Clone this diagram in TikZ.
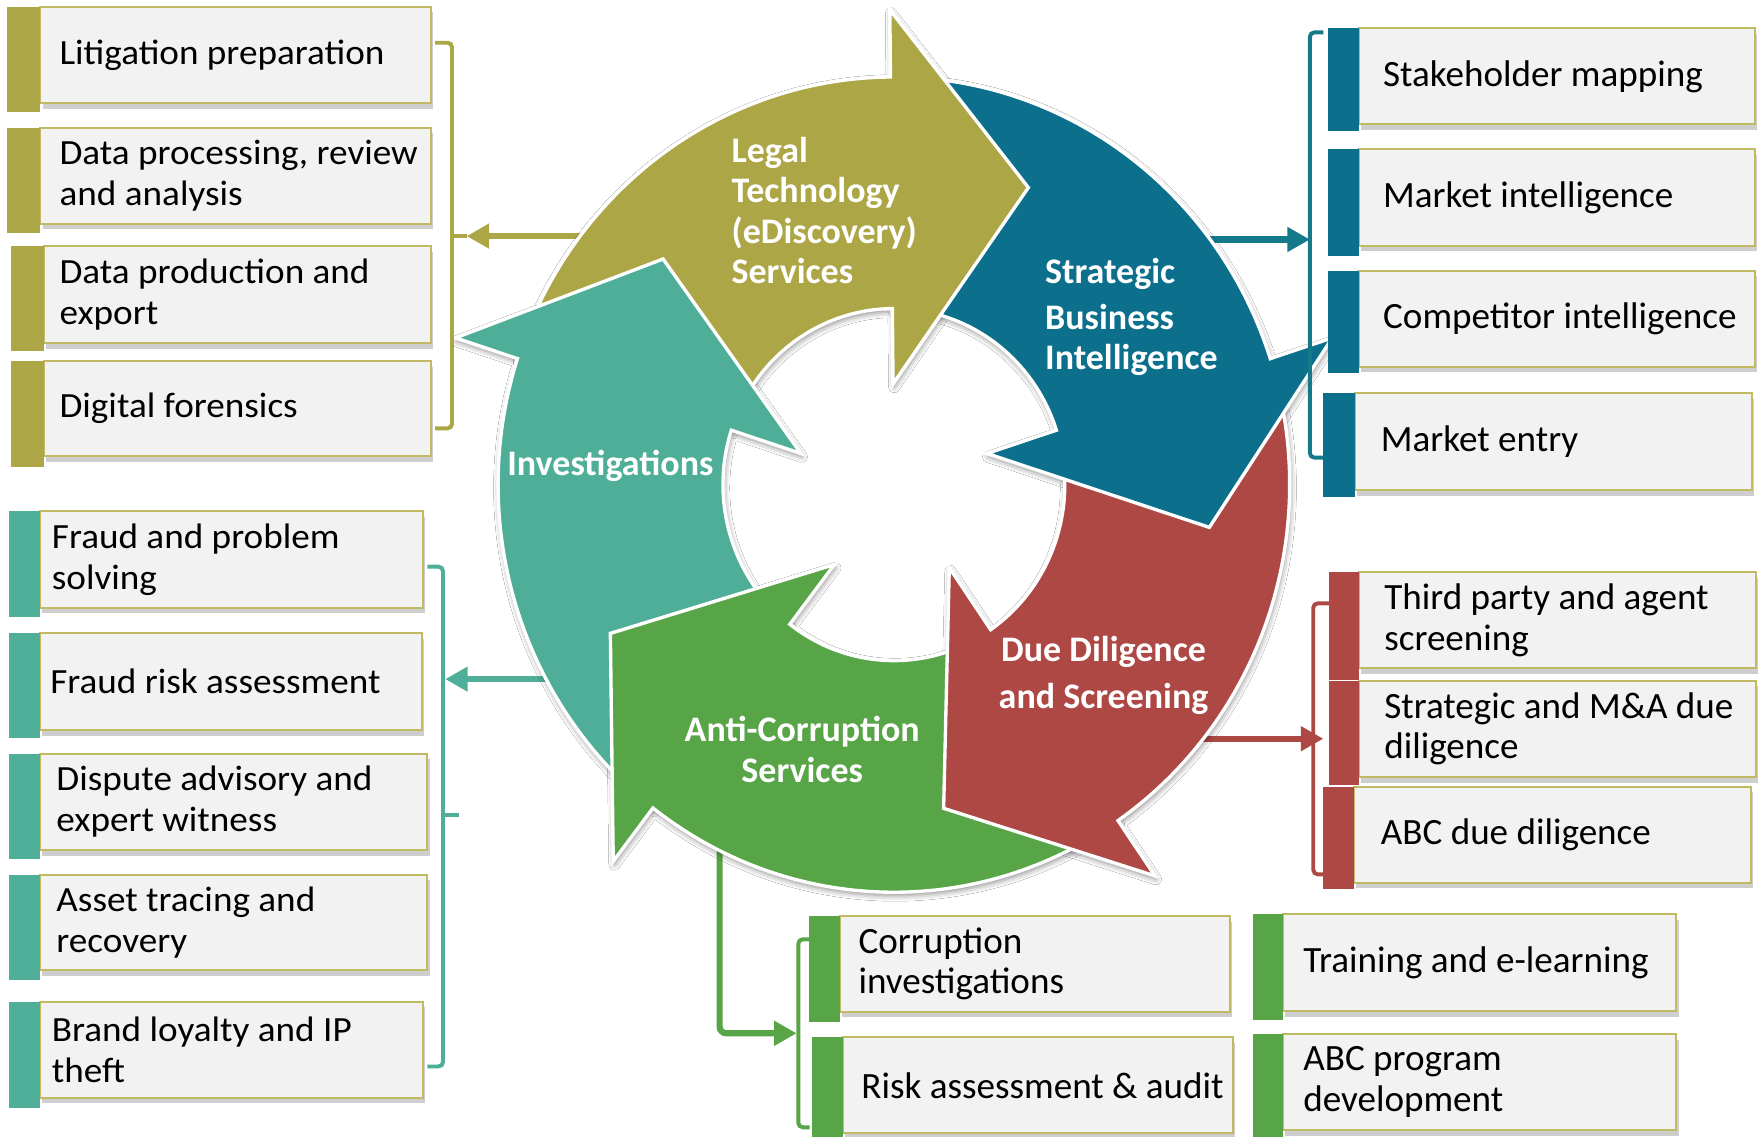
\documentclass[tikz,border=0pt]{standalone}
\usepackage{fontspec}
\setmainfont{Carlito}
\newfontfamily\widefont[FakeStretch=1.05]{Carlito}
\usetikzlibrary{arrows.meta,shadows.blur}

\definecolor{cLegal}{RGB}{173,166,71}
\definecolor{cSBI}{RGB}{12,111,140}
\definecolor{cSBIline}{RGB}{20,122,138}
\definecolor{cDD}{RGB}{173,72,69}
\definecolor{cAC}{RGB}{88,165,71}
\definecolor{cInv}{RGB}{79,174,151}
\definecolor{boxfill}{RGB}{242,242,242}
\definecolor{boxline}{RGB}{194,186,98}
\definecolor{boxshade}{RGB}{206,206,206}

% ring geometry (cycle scope units)
\def\Rout{352}
\def\rin{152}
\def\Rhead{410}
\def\rhead{87}
\def\Rtip{283}
\def\tipoff{25.5}

% one curved arrow of the ring: options, head angle, tail angle
\newcommand\arcarrow[3]{%
  \path[#1] (#3:\Rout) arc[start angle=#3, end angle=#2, radius=\Rout]
    -- (#2:\Rhead) -- ({#2-\tipoff}:\Rtip) -- (#2:\rhead) -- (#2:\rin)
    arc[start angle=#2, end angle=#3, radius=\rin] -- cycle;}

% service box: name, colour, box left, box right, top, bottom, bar bottom, text x, text
\newcommand\svc[9]{%
  \fill[boxshade] ({#3+2},{#5+5}) rectangle ({#4+2},{#6+5});
  \draw[svcbox] (#3,#5) rectangle (#4,#6);
  \fill[#2] ({#3-\barw},#5) rectangle (#3,#7);
  \node[grouptext] (#1) at (#8,{(#5+#6)/2}) {#9};}

\begin{document}
\begin{tikzpicture}[x=1pt,y=-1pt,
  svcbox/.style={fill=boxfill,draw=boxline,line width=1.8pt},
  svctext/.style={anchor=west,inner sep=0pt,align=left,text=black,font=\fontsize{33}{36}\selectfont},
  svctextwide/.style={svctext,font=\widefont\fontsize{31.5}{36}\selectfont},
  grouptext/.style={svctext},
  ringarrow/.style={draw=white,line width=3pt},
  ringshade/.style={blur shadow={shadow xshift=1pt,shadow yshift=-3pt,shadow blur radius=5pt,shadow opacity=45}},
  ringlabel/.style={inner sep=0pt,text=white,font=\bfseries\fontsize{32}{36}\selectfont},
  bracket/.style={line width=3.5pt,rounded corners=4pt},
  feed/.style={line width=5.5pt,-{Triangle[length=20pt,width=21pt]}},
]
\useasboundingbox (0,0) rectangle (1568,1011);
\fill[white] (0,0) rectangle (1568,1011);

% ---- feeds from the ring to the service lists
\coordinate (legal-src) at (540,210);
\coordinate (legal-hub) at (415,210);
\coordinate (inv-src) at (500,604);
\coordinate (inv-hub) at (396,604);
\coordinate (sbi-src) at (1060,213);
\coordinate (sbi-hub) at (1165,213);
\coordinate (dd-src) at (1050,657);
\coordinate (dd-hub) at (1177,657);
\coordinate (ac-src) at (640,740);
\coordinate (ac-hub) at (708.5,919);
\draw[feed,cLegal] (legal-src) -- (legal-hub);
\draw[feed,cInv] (inv-src) -- (inv-hub);
\draw[feed,cSBIline] (sbi-src) -- (sbi-hub);
\draw[feed,cDD] (dd-src) -- (dd-hub);
\draw[feed,cAC,rounded corners=6pt] (ac-src) |- (ac-hub);

% ---- the ring of five arrows
\begin{scope}[shift={(795,431)},x=1pt,y=1.03pt]
  \foreach \h/\t in {90.5/162, 18/90.5, -55.5/18, -127.5/-55.5, 162/232.5}
    {\arcarrow{ringshade}{\h}{\t}}
  \arcarrow{ringarrow,fill=cLegal}{90.5}{162}
  \arcarrow{ringarrow,fill=cInv}{162}{232.5}
  \arcarrow{ringarrow,fill=cAC}{-127.5}{-55.5}
  \arcarrow{ringarrow,fill=cDD}{-55.5}{18}
  \arcarrow{ringarrow,fill=cSBI}{18}{90.5}
  % head of the first arrow lies over the tail of the last one
  \begin{scope}
    \clip (-8,-500) rectangle (500,500);
    \arcarrow{ringarrow,fill=cLegal}{90.5}{162}
  \end{scope}
\end{scope}

% labels: base anchor sits on the last line
\node[ringlabel,anchor=base west,align=left] (lbl-legal) at (650.5,252.5)
  {Legal\\Technology\\(eDiscovery)\\Services};
\node[ringlabel,anchor=base west,align=left] (lbl-sbi) at (929.4,329)
  {Strategic\\[5pt]Business\\Intelligence};
\node[ringlabel,anchor=base west] (lbl-inv) at (451,422.5) {Investigations};
\node[ringlabel,anchor=base,align=center] (lbl-dd) at (981.5,630)
  {Due Diligence\\[5.5pt]and Screening};
\node[ringlabel,anchor=base,align=center] (lbl-ac) at (713.5,695.6)
  {Anti-Corruption\\Services};

% ---- brackets gathering each list
\draw[bracket,cLegal] (387,38) -- (402,38) -- (402,381) -- (387,381);
\draw[bracket,cLegal] (402,210) -- (legal-hub);
\draw[bracket,cInv] (380,504) -- (394,504) -- (394,948.5) -- (380,948.5);
\draw[bracket,cInv] (394,725) -- (408.5,725);
\draw[bracket,cSBIline] (1177,28.8) -- (1165,28.8) -- (1165,407) -- (1177,407);
\draw[bracket,cDD] (1182,536.6) -- (1168,536.6) -- (1168,777.6) -- (1182,777.6);
\draw[bracket,cAC] (720,835.4) -- (710,835.4) -- (710,1002.6) -- (720,1002.6);

% ---- Legal Technology services
\def\barw{29.5}
\tikzset{grouptext/.style={svctextwide}}
\svc{lt1}{cLegal}{36}{383}{6}{92}{100}{52.8}{Litigation preparation}
\svc{lt2}{cLegal}{36}{383}{113.5}{199}{207.5}{52.8}{Data processing, review\\and analysis}
\svc{lt3}{cLegal}{39}{383}{219}{305}{312}{52.8}{Data production and\\export}
\svc{lt4}{cLegal}{39}{383}{321}{405.6}{415}{52.8}{Digital forensics}

% ---- Investigations services
\def\barw{28}
\svc{tl1}{cInv}{35.6}{376}{454.8}{540.6}{549}{46}{Fraud and problem\\solving}
\svc{tl2}{cInv}{35.6}{375}{562.9}{649.3}{656.8}{44.5}{Fraud risk assessment}
\svc{tl3}{cInv}{35.6}{380}{670.2}{755.9}{764}{50}{Dispute advisory and\\expert witness}
\svc{tl4}{cInv}{35.6}{380}{777.8}{862.8}{872}{50}{Asset tracing and\\recovery}
\svc{tl5}{cInv}{35.6}{376}{890.8}{976.4}{985.8}{46}{Brand loyalty and IP\\theft}

% ---- Strategic Business Intelligence services
\tikzset{grouptext/.style={svctext}}
\svc{sb1}{cSBI}{1208.7}{1561}{25.2}{110.6}{116.2}{1230}{Stakeholder mapping}
\svc{sb2}{cSBI}{1208.7}{1561}{132.8}{218.5}{227.7}{1230}{Market intelligence}
\svc{sb3}{cSBI}{1208.7}{1561}{240.7}{326.1}{332}{1230}{Competitor intelligence}
\svc{sb4}{cSBI}{1205}{1558}{349.8}{435.8}{441.7}{1228}{Market entry}

% ---- Due Diligence services
\def\barw{27}
\svc{dd1}{cDD}{1208.7}{1561.7}{509}{594.4}{605}{1231}{Third party and agent\\screening}
\svc{dd2}{cDD}{1208.7}{1561.7}{605.4}{691.3}{698}{1231}{Strategic and M\&A due\\diligence}
\svc{dd3}{cDD}{1204}{1557.3}{699.6}{785}{791}{1228}{ABC due diligence}

% ---- Anti-Corruption services
\svc{ac1}{cAC}{746.7}{1094}{814.7}{899.7}{908.6}{763.4}{Corruption\\investigations}
\svc{ac2}{cAC}{749.5}{1096.3}{922.5}{1008}{1015}{766}{Risk assessment \& audit}
\svc{ac3}{cAC}{1141}{1491}{813.2}{899.1}{907}{1159}{Training and e-learning}
\svc{ac4}{cAC}{1141}{1491}{919.9}{1005}{1015}{1159}{ABC program\\development}
\end{tikzpicture}
\end{document}
